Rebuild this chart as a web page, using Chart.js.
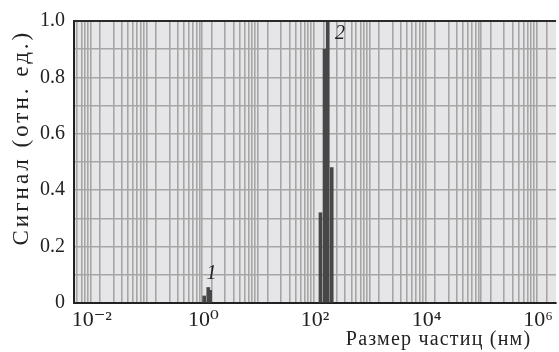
<!DOCTYPE html>
<html>
<head>
<meta charset="utf-8">
<script src="https://cdn.jsdelivr.net/npm/chart.js@4/dist/chart.umd.min.js"></script>
<style>
  html, body { margin: 0; padding: 0; background: #ffffff; }
  #wrap { width: 559px; height: 352px; position: relative; }
</style>
</head>
<body>
<div id="wrap"><canvas id="c"></canvas></div>
<script>
// Particle sizes (nm) and normalized signal
const particleSizes = [1.03, 1.22, 1.32, 125, 148, 169, 199];
const signalValues  = [0.025, 0.055, 0.045, 0.32, 0.90, 1.0, 0.48];
// Peak annotations: label, size (nm), signal level
const peakLabels = ['1', '2'];
const peakSizes  = [1.4, 280];
const peakLevels = [0.105, 0.955];
// Axis tick labels
const xTickExponents = [-2, 0, 2, 4, 6];
const yTickValues = [0, 0.2, 0.4, 0.6, 0.8, 1.0];

const SERIF = '"Liberation Serif", "DejaVu Serif", serif';
const supMap = {'-': '\u207B', '0': '\u2070', '1': '\u00B9', '2': '\u00B2', '3': '\u00B3',
  '4': '\u2074', '5': '\u2075', '6': '\u2076', '7': '\u2077', '8': '\u2078', '9': '\u2079'};
function sup(n) { return String(n).split('').map(ch => supMap[ch]).join(''); }

function spacedTitle(scale, spacing) {
  if (scale._spacedPatched) return;
  const orig = scale.drawTitle;
  scale.drawTitle = function () {
    const ctx = this.ctx;
    const prev = ctx.letterSpacing;
    ctx.letterSpacing = spacing;
    orig.apply(this, arguments);
    ctx.letterSpacing = prev || '0px';
  };
  scale._spacedPatched = true;
}

const plotDecor = {
  id: 'plotDecor',
  beforeDraw(chart) {
    spacedTitle(chart.scales.y, '3px');
    spacedTitle(chart.scales.x, '1.2px');
    const {ctx, chartArea: a} = chart;
    ctx.save();
    ctx.fillStyle = '#e6e6e8';
    ctx.fillRect(a.left, a.top, a.right - a.left, a.bottom - a.top);
    ctx.restore();
  },
  afterDraw(chart) {
    const {ctx, chartArea: a, scales} = chart;
    ctx.save();
    ctx.strokeStyle = '#2a2a2a';
    ctx.lineWidth = 2;
    ctx.beginPath();
    ctx.moveTo(a.left, a.top); ctx.lineTo(a.right, a.top);
    ctx.stroke();
    ctx.fillStyle = '#222';
    ctx.font = 'italic 20px ' + SERIF;
    ctx.textAlign = 'center';
    ctx.textBaseline = 'middle';
    peakLabels.forEach((lab, i) => {
      ctx.fillText(lab, scales.x.getPixelForValue(peakSizes[i]), scales.y.getPixelForValue(peakLevels[i]));
    });
    ctx.restore();
  }
};

new Chart(document.getElementById('c'), {
  type: 'bar',
  data: {
    datasets: [{
      data: particleSizes.map((s, i) => ({x: s, y: signalValues[i]})),
      backgroundColor: '#474747',
      borderWidth: 0,
      barThickness: 3
    }]
  },
  options: {
    responsive: true,
    maintainAspectRatio: false,
    animation: false,
    layout: { padding: { top: 19, right: 0, left: 0, bottom: 0 } },
    plugins: { legend: { display: false }, tooltip: { enabled: false } },
    scales: {
      x: {
        type: 'logarithmic',
        min: Math.pow(10, -2.32),
        max: Math.pow(10, 6.32),
        afterBuildTicks(scale) {
          const ticks = [];
          for (let k = -3; k <= 7; k++) {
            for (let m = 1; m <= 9; m++) {
              const v = m * Math.pow(10, k);
              if (v >= scale.min && v <= scale.max) ticks.push({value: v});
            }
          }
          scale.ticks = ticks;
        },
        afterFit(scale) { scale.height = 49; },
        ticks: {
          autoSkip: false,
          maxRotation: 0,
          minRotation: 0,
          padding: 4,
          color: '#222',
          font: { family: SERIF, size: 22 },
          callback(value) {
            const e = Math.round(Math.log10(value));
            if (Math.abs(value - Math.pow(10, e)) / value < 1e-9 && xTickExponents.includes(e)) {
              return '10' + sup(e);
            }
            return '';
          }
        },
        grid: { color: '#a6a6a6', lineWidth: 1.6, drawTicks: false },
        border: { color: '#222', width: 2 },
        title: {
          display: true,
          text: 'Размер частиц (нм)    ',
          align: 'end',
          color: '#222',
          font: { family: SERIF, size: 20, lineHeight: 1.2 },
          padding: { top: 0, bottom: 0 }
        }
      },
      y: {
        min: 0,
        max: 1,
        afterBuildTicks(scale) {
          const t = [];
          for (let i = 0; i <= 10; i++) t.push({value: i / 10});
          scale.ticks = t;
        },
        afterFit(scale) { scale.width = 74; },
        ticks: {
          autoSkip: false,
          padding: 9,
          color: '#222',
          font: { family: SERIF, size: 20 },
          callback(value) {
            const hit = yTickValues.find(v => Math.abs(v - value) < 1e-9);
            if (hit === undefined) return '';
            return hit === 0 ? '0' : hit.toFixed(1);
          }
        },
        grid: { color: '#a6a6a6', lineWidth: 1.6, drawTicks: false },
        border: { color: '#222', width: 2 },
        title: {
          display: true,
          text: 'Сигнал (отн. ед.) ',
          align: 'end',
          color: '#222',
          font: { family: SERIF, size: 23, lineHeight: 1.2 },
          padding: { top: 8, bottom: 0 }
        }
      }
    }
  },
  plugins: [plotDecor]
});
</script>
</body>
</html>
